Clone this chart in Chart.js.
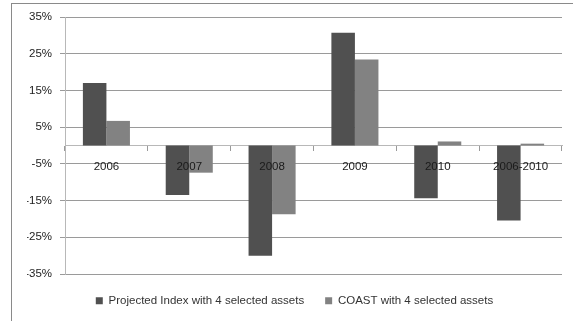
<!DOCTYPE html>
<html>
<head>
<meta charset="utf-8">
<script src="https://cdn.jsdelivr.net/npm/chart.js@4/dist/chart.umd.min.js"></script>
<style>
  html, body { margin: 0; padding: 0; background: #fff; }
  #wrap { width: 573px; height: 321px; position: relative; }
</style>
</head>
<body>
<div id="wrap"><canvas id="returnsChart"></canvas></div>
<script>
const periods = ["2006", "2007", "2008", "2009", "2010", "2006-2010"];
const projectedIndex = [17.0, -13.5, -30.0, 30.7, -14.4, -20.4];
const coast = [6.7, -7.4, -18.7, 23.4, 1.1, 0.5];
const yTicks = [-35, -25, -15, -5, 5, 15, 25, 35];

const FONT = "'Liberation Sans', Arial, sans-serif";

// thin grey frame around the whole chart
const frame = {
  id: "frame",
  beforeDraw(chart) {
    const c = chart.ctx;
    c.save();
    c.fillStyle = "#fff";
    c.fillRect(0, 0, chart.width, chart.height);
    c.strokeStyle = "#8a8a8a";
    c.lineWidth = 1;
    c.strokeRect(11.5, 3.5, 700, 400);
    c.restore();
  }
};

const ctx = document.getElementById("returnsChart").getContext("2d");

new Chart(ctx, {
  type: "bar",
  data: {
    labels: periods,
    datasets: [
      {
        label: "Projected Index with 4 selected assets",
        data: projectedIndex,
        backgroundColor: "#505050"
      },
      {
        label: "COAST with 4 selected assets",
        data: coast,
        backgroundColor: "#828282"
      }
    ]
  },
  options: {
    responsive: true,
    maintainAspectRatio: false,
    animation: false,
    layout: { padding: { left: 27, right: 11, top: 17, bottom: 4.5 } },
    datasets: {
      bar: { categoryPercentage: 0.568, barPercentage: 1 }
    },
    scales: {
      x: {
        // category axis sits on the zero line, labels drawn over the bars
        position: { y: 0 },
        offset: true,
        grid: {
          drawOnChartArea: false,
          drawTicks: true,
          tickLength: 5,
          offset: true,
          color: "#9a9a9a"
        },
        border: { display: true, color: "#b8b8b8" },
        ticks: {
          z: 1,
          padding: 9,
          color: "#1a1a1a",
          font: { family: FONT, size: 11.5 },
          maxRotation: 0
        }
      },
      y: {
        min: -35,
        max: 35,
        afterBuildTicks: (scale) => {
          scale.ticks = yTicks.map(v => ({ value: v }));
        },
        afterFit: (scale) => { scale.width = 38; },
        grid: { color: "#9a9a9a", tickLength: 5 },
        border: { display: true, color: "#b8b8b8" },
        ticks: {
          padding: 8,
          color: "#222",
          font: { family: FONT, size: 11.5 },
          callback: (v) => v + "%"
        }
      }
    },
    plugins: {
      legend: {
        position: "bottom",
        labels: {
          boxWidth: 7,
          boxHeight: 7,
          padding: 21,
          color: "#333",
          font: { family: FONT, size: 11.5 }
        }
      },
      tooltip: { enabled: false }
    }
  },
  plugins: [frame]
});
</script>
</body>
</html>
